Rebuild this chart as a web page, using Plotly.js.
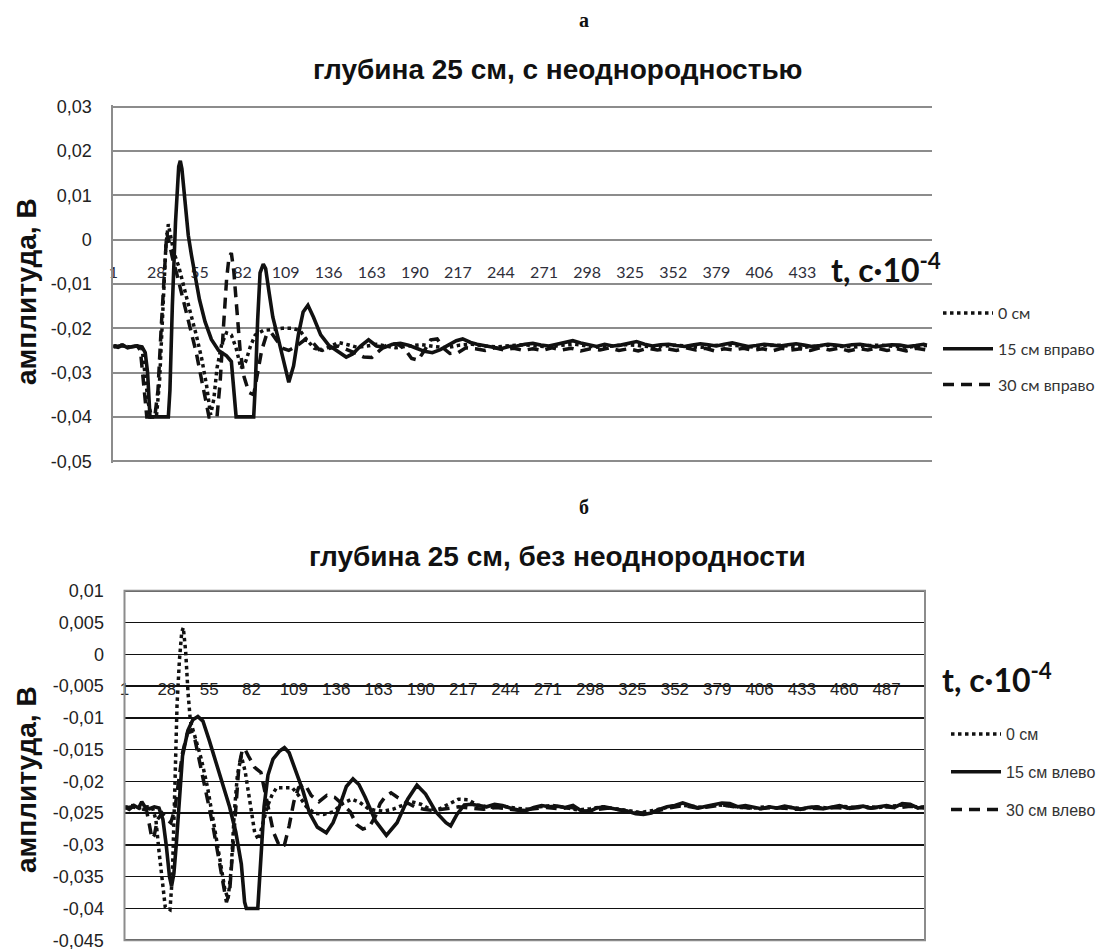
<!DOCTYPE html>
<html>
<head>
<meta charset="utf-8">
<script src="https://cdn.plot.ly/plotly-3.0.1.min.js"></script>
<style>html,body{margin:0;padding:0;background:#fff;}#chart{width:1110px;height:949px;}</style>
</head>
<body>
<div id="chart"></div>
<script>
// ---------- tick labels ----------
const a_xticks = [1,28,55,82,109,136,163,190,217,244,271,298,325,352,379,406,433];
const b_xticks = [1,28,55,82,109,136,163,190,217,244,271,298,325,352,379,406,433,460,487];
const a_yticks = [0.03,0.02,0.01,0,-0.01,-0.02,-0.03,-0.04,-0.05];
const a_ylabels = ['0,03','0,02','0,01','0','-0,01','-0,02','-0,03','-0,04','-0,05'];
const b_yticks = [0.01,0.005,0,-0.005,-0.01,-0.015,-0.02,-0.025,-0.03,-0.035,-0.04,-0.045];
const b_ylabels = ['0,01','0,005','0','-0,005','-0,01','-0,015','-0,02','-0,025','-0,03','-0,035','-0,04','-0,045'];

// ---------- series names ----------
const a_names = ['0 см','15 см вправо','30 см вправо'];
const b_names = ['0 см','15 см влево','30 см влево'];

// ---------- chart а: [t, amplitude V] ----------
const a_zero = [[1,-0.0240],[6,-0.0238],[11,-0.0242],[16,-0.0240],[19,-0.0245],[21,-0.030],[23,-0.037],[25,-0.040],[28,-0.040],[30,-0.032],[32,-0.016],[34,-0.001],[35.5,0.0035],[37,0.0010],[39,-0.0030],[42,-0.0060],[45,-0.0100],[49,-0.0160],[53,-0.0215],[56.5,-0.0270],[59.5,-0.0330],[62,-0.0395],[64,-0.0360],[66,-0.0290],[69,-0.0235],[72,-0.0210],[75,-0.0215],[78,-0.0245],[81,-0.0290],[84,-0.0275],[87,-0.0240],[90,-0.0215],[95,-0.0205],[101,-0.0203],[107,-0.0200],[113,-0.0200],[118,-0.0205],[122,-0.0225],[127,-0.0245],[132,-0.0250],[137,-0.0240],[142,-0.0232],[148,-0.0237],[154,-0.0243],[160,-0.0240],[166,-0.0236],[172,-0.0240],[178,-0.0244],[186,-0.0240],[194,-0.0237],[202,-0.0241],[210,-0.0244],[218,-0.0238],[226,-0.0236],[234,-0.0240],[242,-0.0242],[250,-0.0239],[258,-0.0237],[266,-0.0240],[274,-0.0242],[282,-0.0238],[290,-0.0236],[298,-0.0240],[306,-0.0243],[314,-0.0240],[322,-0.0237],[330,-0.0239],[338,-0.0242],[346,-0.0240],[354,-0.0238],[362,-0.0241],[370,-0.0243],[378,-0.0239],[386,-0.0237],[394,-0.0240],[402,-0.0242],[410,-0.0239],[418,-0.0238],[426,-0.0241],[434,-0.0243],[442,-0.0240],[450,-0.0238],[458,-0.0241],[466,-0.0242],[474,-0.0239],[482,-0.0238],[490,-0.0241],[498,-0.0243],[506,-0.0240],[511,-0.0239]];

const a_right15 = [[1,-0.0240],[4,-0.0243],[7,-0.0238],[10,-0.0244],[13,-0.0241],[16,-0.0240],[19,-0.0242],[21,-0.0255],[22.5,-0.030],[24,-0.040],[35.5,-0.040],[36.5,-0.034],[38,-0.015],[40,0.004],[42,0.0165],[43,0.0178],[44,0.0160],[46,0.0090],[48,0.0010],[50,-0.0035],[52,-0.0075],[55,-0.0135],[58.5,-0.0185],[62.5,-0.0225],[67,-0.0250],[72,-0.0262],[75,-0.0275],[76.5,-0.033],[78,-0.040],[89,-0.040],[90,-0.033],[91.5,-0.018],[93,-0.0075],[95,-0.0055],[96.5,-0.0065],[98.5,-0.0115],[101,-0.0175],[104.5,-0.0225],[108,-0.0280],[111,-0.0322],[114,-0.0285],[117,-0.0215],[120,-0.0163],[123,-0.0148],[126.5,-0.0175],[131,-0.0215],[136,-0.0238],[141,-0.0250],[147,-0.0265],[151,-0.0258],[156,-0.0240],[161,-0.0226],[166,-0.0240],[171,-0.0243],[176,-0.0236],[181,-0.0234],[186,-0.0238],[191,-0.0245],[196,-0.0252],[201,-0.0255],[206,-0.0248],[211,-0.0238],[216,-0.0228],[220,-0.0224],[225,-0.0232],[229,-0.0236],[234,-0.0240],[239,-0.0243],[244,-0.0246],[249,-0.0241],[254,-0.0240],[259,-0.0236],[264,-0.0234],[269,-0.0238],[274,-0.0240],[279,-0.0236],[284,-0.0231],[289,-0.0228],[294,-0.0233],[299,-0.0238],[304,-0.0241],[309,-0.0236],[314,-0.0240],[319,-0.0238],[324,-0.0233],[329,-0.0230],[334,-0.0236],[339,-0.0240],[344,-0.0237],[349,-0.0236],[354,-0.0239],[359,-0.0241],[364,-0.0238],[369,-0.0235],[374,-0.0237],[379,-0.0240],[384,-0.0236],[389,-0.0233],[394,-0.0237],[399,-0.0241],[404,-0.0239],[409,-0.0236],[414,-0.0238],[419,-0.0240],[424,-0.0237],[429,-0.0235],[434,-0.0238],[439,-0.0241],[444,-0.0239],[449,-0.0236],[454,-0.0238],[459,-0.0240],[464,-0.0237],[469,-0.0236],[474,-0.0239],[479,-0.0242],[484,-0.0239],[489,-0.0237],[494,-0.0238],[499,-0.0241],[504,-0.0239],[509,-0.0236],[511,-0.0238]];

const a_right30 = [[1,-0.0242],[6,-0.0239],[11,-0.0243],[16,-0.0240],[18,-0.0250],[20,-0.032],[22,-0.040],[27,-0.040],[29,-0.034],[31,-0.020],[33,-0.006],[34.5,0.0015],[36,-0.0005],[38,-0.0040],[41,-0.0080],[45,-0.0140],[49,-0.0195],[53,-0.0255],[56,-0.0310],[59,-0.0370],[61,-0.0400],[66,-0.0400],[68,-0.0320],[70,-0.0200],[72,-0.0090],[73.5,-0.0040],[75,-0.0030],[76.5,-0.0070],[78.5,-0.0160],[80.5,-0.0250],[83,-0.0310],[86,-0.0345],[89,-0.0350],[91,-0.0310],[94,-0.0250],[97,-0.0215],[100,-0.0210],[103,-0.0225],[107,-0.0245],[111,-0.0250],[116,-0.0240],[121,-0.0226],[126,-0.0232],[130,-0.0248],[136,-0.0246],[142,-0.0240],[148,-0.0248],[154,-0.0258],[158,-0.0265],[163,-0.0266],[168,-0.0250],[173,-0.0236],[179,-0.0235],[184,-0.0248],[188,-0.0268],[192,-0.0272],[196,-0.0250],[200,-0.0226],[204,-0.0224],[208,-0.0245],[212,-0.0257],[217,-0.0255],[222,-0.0244],[228,-0.0246],[234,-0.0250],[240,-0.0244],[246,-0.0249],[252,-0.0245],[258,-0.0250],[264,-0.0246],[270,-0.0250],[276,-0.0244],[282,-0.0249],[288,-0.0245],[294,-0.0251],[300,-0.0246],[306,-0.0249],[312,-0.0244],[318,-0.0250],[324,-0.0246],[330,-0.0251],[336,-0.0245],[342,-0.0249],[348,-0.0246],[354,-0.0250],[360,-0.0244],[366,-0.0249],[372,-0.0245],[378,-0.0251],[384,-0.0246],[390,-0.0249],[396,-0.0245],[402,-0.0250],[408,-0.0246],[414,-0.0251],[420,-0.0245],[426,-0.0249],[432,-0.0246],[438,-0.0250],[444,-0.0244],[450,-0.0249],[456,-0.0245],[462,-0.0251],[468,-0.0246],[474,-0.0249],[480,-0.0245],[486,-0.0250],[492,-0.0246],[498,-0.0251],[504,-0.0245],[511,-0.0249]];

// ---------- chart б ----------
const b_zero = [[1,-0.0241],[6,-0.0238],[11,-0.0242],[16,-0.0240],[19,-0.0243],[21,-0.0260],[23,-0.0310],[25,-0.0360],[27,-0.0398],[30,-0.0402],[31.5,-0.0350],[33,-0.0220],[34.5,-0.0080],[36,-0.0010],[37.5,0.0035],[38.5,0.0042],[40,0.0005],[41.5,-0.0060],[43,-0.0105],[46,-0.0130],[50,-0.0165],[54,-0.0210],[58,-0.0265],[62,-0.0325],[65,-0.0370],[67,-0.0385],[69,-0.0340],[71,-0.0250],[73,-0.0190],[75.5,-0.0160],[78,-0.0185],[81,-0.0235],[84,-0.0280],[86.5,-0.0292],[89,-0.0270],[92,-0.0240],[95,-0.0222],[98,-0.0210],[103,-0.0210],[108,-0.0210],[112,-0.0222],[117,-0.0240],[122,-0.0250],[128,-0.0252],[134,-0.0248],[140,-0.0235],[146,-0.0228],[151,-0.0233],[156,-0.0242],[160,-0.0245],[166,-0.0247],[172,-0.0244],[178,-0.0238],[184,-0.0232],[190,-0.0236],[196,-0.0244],[202,-0.0243],[208,-0.0236],[214,-0.0228],[220,-0.0229],[226,-0.0237],[234,-0.0241],[242,-0.0239],[250,-0.0242],[258,-0.0244],[266,-0.0240],[274,-0.0238],[282,-0.0241],[290,-0.0245],[298,-0.0243],[306,-0.0240],[314,-0.0243],[322,-0.0246],[330,-0.0249],[338,-0.0246],[346,-0.0241],[354,-0.0237],[362,-0.0239],[370,-0.0241],[378,-0.0237],[386,-0.0238],[394,-0.0241],[402,-0.0242],[410,-0.0240],[418,-0.0242],[426,-0.0241],[434,-0.0243],[442,-0.0240],[450,-0.0242],[458,-0.0239],[466,-0.0241],[474,-0.0240],[482,-0.0241],[490,-0.0239],[498,-0.0237],[506,-0.0240],[511,-0.0241]];

const b_left15 = [[1,-0.0240],[4,-0.0244],[7,-0.0238],[10,-0.0242],[12,-0.0232],[14,-0.0240],[17,-0.0243],[20,-0.0240],[23,-0.0242],[25.5,-0.0260],[27.6,-0.0300],[29.7,-0.0350],[31,-0.0365],[32.5,-0.0345],[34,-0.0300],[36,-0.0220],[38,-0.0160],[41.4,-0.0120],[44.6,-0.0103],[47.8,-0.0098],[51,-0.0105],[55,-0.0135],[59.5,-0.0170],[63.8,-0.0205],[68,-0.0240],[72,-0.0280],[75.5,-0.0330],[77.6,-0.0390],[78.7,-0.0400],[86,-0.0400],[88,-0.0330],[90,-0.0240],[92.5,-0.0190],[95.7,-0.0165],[100,-0.0152],[103,-0.0147],[106,-0.0155],[110.6,-0.0185],[114.8,-0.0215],[119,-0.0250],[124,-0.0272],[129.7,-0.0281],[134,-0.0265],[138,-0.0240],[142.5,-0.0208],[146.7,-0.0196],[150.5,-0.0205],[154.5,-0.0225],[161,-0.0262],[168,-0.0285],[174.8,-0.0265],[181.6,-0.0228],[187.5,-0.0206],[193,-0.0220],[199.6,-0.0248],[206,-0.0265],[209,-0.0270],[213,-0.0252],[217.7,-0.0237],[222,-0.0236],[227,-0.0238],[232,-0.0240],[237,-0.0236],[242,-0.0238],[247,-0.0242],[252,-0.0245],[257,-0.0246],[262,-0.0241],[267,-0.0238],[272,-0.0240],[277,-0.0239],[282,-0.0241],[287,-0.0238],[292,-0.0246],[297,-0.0248],[302,-0.0242],[307,-0.0240],[312,-0.0243],[317,-0.0245],[322,-0.0247],[327,-0.0251],[332,-0.0252],[337,-0.0250],[342,-0.0244],[347,-0.0240],[352,-0.0238],[357,-0.0234],[362,-0.0238],[367,-0.0242],[372,-0.0239],[377,-0.0237],[382,-0.0234],[387,-0.0235],[392,-0.0240],[397,-0.0238],[402,-0.0241],[407,-0.0243],[412,-0.0240],[417,-0.0242],[422,-0.0239],[427,-0.0242],[432,-0.0244],[437,-0.0241],[442,-0.0240],[447,-0.0243],[452,-0.0240],[457,-0.0238],[462,-0.0242],[467,-0.0240],[472,-0.0239],[477,-0.0242],[482,-0.0240],[487,-0.0238],[492,-0.0241],[497,-0.0235],[502,-0.0236],[507,-0.0242],[511,-0.0240]];

const b_left30 = [[1,-0.0242],[6,-0.0240],[11,-0.0243],[15,-0.0245],[17,-0.0270],[18.5,-0.0290],[20,-0.0285],[22,-0.0260],[25,-0.0250],[28,-0.0260],[30.5,-0.0265],[33,-0.0245],[35.5,-0.0200],[38,-0.0155],[41,-0.0125],[43.5,-0.0120],[46,-0.0135],[49,-0.0170],[53,-0.0215],[57,-0.0265],[61,-0.0320],[64,-0.0360],[66,-0.0390],[68,-0.0375],[70,-0.0310],[72,-0.0230],[74,-0.0175],[76,-0.0152],[77.5,-0.0148],[80,-0.0160],[84,-0.0178],[88,-0.0186],[90,-0.0210],[93,-0.0250],[96,-0.0280],[100,-0.0303],[103,-0.0300],[106,-0.0270],[109,-0.0232],[112,-0.0210],[116,-0.0204],[120,-0.0222],[125,-0.0232],[130,-0.0222],[135,-0.0225],[140,-0.0236],[145,-0.0248],[149,-0.0268],[153,-0.0275],[157,-0.0272],[161,-0.0255],[164,-0.0235],[167,-0.0225],[171,-0.0218],[175,-0.0225],[180,-0.0232],[186,-0.0240],[192,-0.0244],[198,-0.0246],[206,-0.0243],[214,-0.0240],[222,-0.0242],[230,-0.0244],[238,-0.0241],[246,-0.0243],[254,-0.0246],[262,-0.0243],[270,-0.0241],[278,-0.0243],[286,-0.0241],[294,-0.0247],[302,-0.0244],[310,-0.0242],[318,-0.0245],[326,-0.0249],[334,-0.0250],[342,-0.0245],[350,-0.0241],[358,-0.0238],[366,-0.0242],[374,-0.0240],[382,-0.0237],[390,-0.0240],[398,-0.0241],[406,-0.0243],[414,-0.0241],[422,-0.0242],[430,-0.0244],[438,-0.0242],[446,-0.0243],[454,-0.0241],[462,-0.0243],[470,-0.0241],[478,-0.0242],[486,-0.0240],[494,-0.0242],[502,-0.0239],[511,-0.0242]];

// ---------- build traces ----------
const T = d => d.map(p => p[0]);
const V = d => d.map(p => p[1]);
const lineStyle = {
  dot: {color:'#111', width:3.5, dash:'dot'},
  solid: {color:'#111', width:3.6, dash:'solid'},
  dash: {color:'#111', width:3.5, dash:'11px,7px'}
};
function mk(data, name, style, xa, ya, leg, grp){
  return {x:T(data), y:V(data), name:name, type:'scatter', mode:'lines',
          line:lineStyle[style], xaxis:xa, yaxis:ya, legend:leg, legendgroup:grp, hoverinfo:'skip'};
}
const traces = [
  mk(a_zero,    a_names[0], 'dot',   'x','y','legend','a0'),
  mk(a_right15, a_names[1], 'solid', 'x','y','legend','a1'),
  mk(a_right30, a_names[2], 'dash',  'x','y','legend','a2'),
  mk(b_zero,    b_names[0], 'dot',   'x2','y2','legend2','b0'),
  mk(b_left15,  b_names[1], 'solid', 'x2','y2','legend2','b1'),
  mk(b_left30,  b_names[2], 'dash',  'x2','y2','legend2','b2')
];

const W = 1110, H = 949;
const px = v => v / W;
const py = v => (H - v) / H;
const clear = 'rgba(0,0,0,0)';
const ARIAL = 'Liberation Sans, Arial, sans-serif';

const layout = {
  width: W, height: H,
  margin: {l:0, r:0, t:0, b:0},
  paper_bgcolor: '#fff', plot_bgcolor: '#fff',
  showlegend: true,
  xaxis: {
    domain: [px(113.3), px(931.7)], range: [1, 514], anchor: 'free', position: py(239.8),
    showgrid: false, zeroline: false, showline: false,
    tickmode: 'array', tickvals: a_xticks, ticktext: a_xticks.map(String),
    ticks: 'outside', ticklen: 18, tickcolor: clear,
    tickfont: {family: 'Lato, sans-serif', size: 16, color: '#2e2e3a'},
    layer: 'below traces', fixedrange: true
  },
  yaxis: {
    domain: [py(462.97), py(105.03)], range: [-0.0504, 0.0304], anchor: 'x',
    tickmode: 'array', tickvals: a_yticks, ticktext: a_ylabels,
    showgrid: true, gridcolor: '#8c8c8c', gridwidth: 2, zeroline: false,
    showline: true, linecolor: '#8c8c8c', linewidth: 2,
    ticks: 'outside', ticklen: 16, tickcolor: clear, ticklabeloverflow: 'allow',
    tickfont: {family: ARIAL, size: 18, color: '#222'}, fixedrange: true
  },
  xaxis2: {
    domain: [px(124.5), px(925)], range: [1, 511.5], anchor: 'free', position: py(654),
    showgrid: false, zeroline: false, showline: false,
    tickmode: 'array', tickvals: b_xticks, ticktext: b_xticks.map(String),
    ticks: 'outside', ticklen: 20, tickcolor: clear,
    tickfont: {family: ARIAL, size: 17, color: '#222'},
    layer: 'below traces', fixedrange: true
  },
  yaxis2: {
    domain: [py(942.1), py(588.9)], range: [-0.0453, 0.0103], anchor: 'x2',
    tickmode: 'array', tickvals: b_yticks, ticktext: b_ylabels,
    showgrid: true, gridcolor: '#111', gridwidth: 1.5, zeroline: false,
    showline: false,
    ticks: 'outside', ticklen: 16, tickcolor: clear, ticklabeloverflow: 'allow',
    tickfont: {family: ARIAL, size: 18, color: '#222'}, fixedrange: true
  },
  shapes: [
    {type:'rect', xref:'x2 domain', yref:'y2', x0:0, x1:1, y0:-0.045, y1:0.01,
     line:{color:'#8c8c8c', width:2}, fillcolor: clear, layer:'above'}
  ],
  legend: {
    x: px(938), y: py(296), xanchor: 'left', yanchor: 'top',
    bgcolor: clear, borderwidth: 0, traceorder: 'grouped', tracegroupgap: 12,
    itemwidth: 50,
    font: {family: 'Lato, sans-serif', size: 16, color: '#333'}
  },
  legend2: {
    x: px(946), y: py(717), xanchor: 'left', yanchor: 'top',
    bgcolor: clear, borderwidth: 0, traceorder: 'grouped', tracegroupgap: 14,
    itemwidth: 50,
    font: {family: ARIAL, size: 16, color: '#333'}
  },
  annotations: [
    {text:'а', xref:'paper', yref:'paper', x:px(584), y:py(20), xanchor:'center', yanchor:'middle', showarrow:false,
     font:{family:'Liberation Serif, serif', size:20, weight:'bold', color:'#111'}},
    {text:'глубина 25 см, с неоднородностью', xref:'paper', yref:'paper', x:px(558), y:py(70), xanchor:'center', yanchor:'middle', showarrow:false,
     font:{family:ARIAL, size:28, weight:'bold', color:'#111'}},
    {text:'б', xref:'paper', yref:'paper', x:px(584), y:py(507), xanchor:'center', yanchor:'middle', showarrow:false,
     font:{family:'Liberation Serif, serif', size:20, weight:'bold', color:'#111'}},
    {text:'глубина 25 см, без неоднородности', xref:'paper', yref:'paper', x:px(557), y:py(557), xanchor:'center', yanchor:'middle', showarrow:false,
     font:{family:ARIAL, size:28, weight:'bold', color:'#111'}},
    {text:'амплитуда, В', xref:'paper', yref:'paper', x:px(26), y:py(292), xanchor:'center', yanchor:'middle', textangle:-90, showarrow:false,
     font:{family:ARIAL, size:28, weight:'bold', color:'#111'}},
    {text:'амплитуда, В', xref:'paper', yref:'paper', x:px(26), y:py(780), xanchor:'center', yanchor:'middle', textangle:-90, showarrow:false,
     font:{family:ARIAL, size:28, weight:'bold', color:'#111'}},
    {text:'t, с·10<sup>-4</sup>', xref:'paper', yref:'paper', x:px(829), y:py(268), xanchor:'left', yanchor:'middle', showarrow:false,
     font:{family:'Lato, sans-serif', size:32, weight:'bold', color:'#111'}},
    {text:'t, с·10<sup>-4</sup>', xref:'paper', yref:'paper', x:px(940), y:py(678), xanchor:'left', yanchor:'middle', showarrow:false,
     font:{family:'Lato, sans-serif', size:32, weight:'bold', color:'#111'}}
  ]
};

Plotly.newPlot('chart', traces, layout, {staticPlot: true, displayModeBar: false});
</script>
</body>
</html>
